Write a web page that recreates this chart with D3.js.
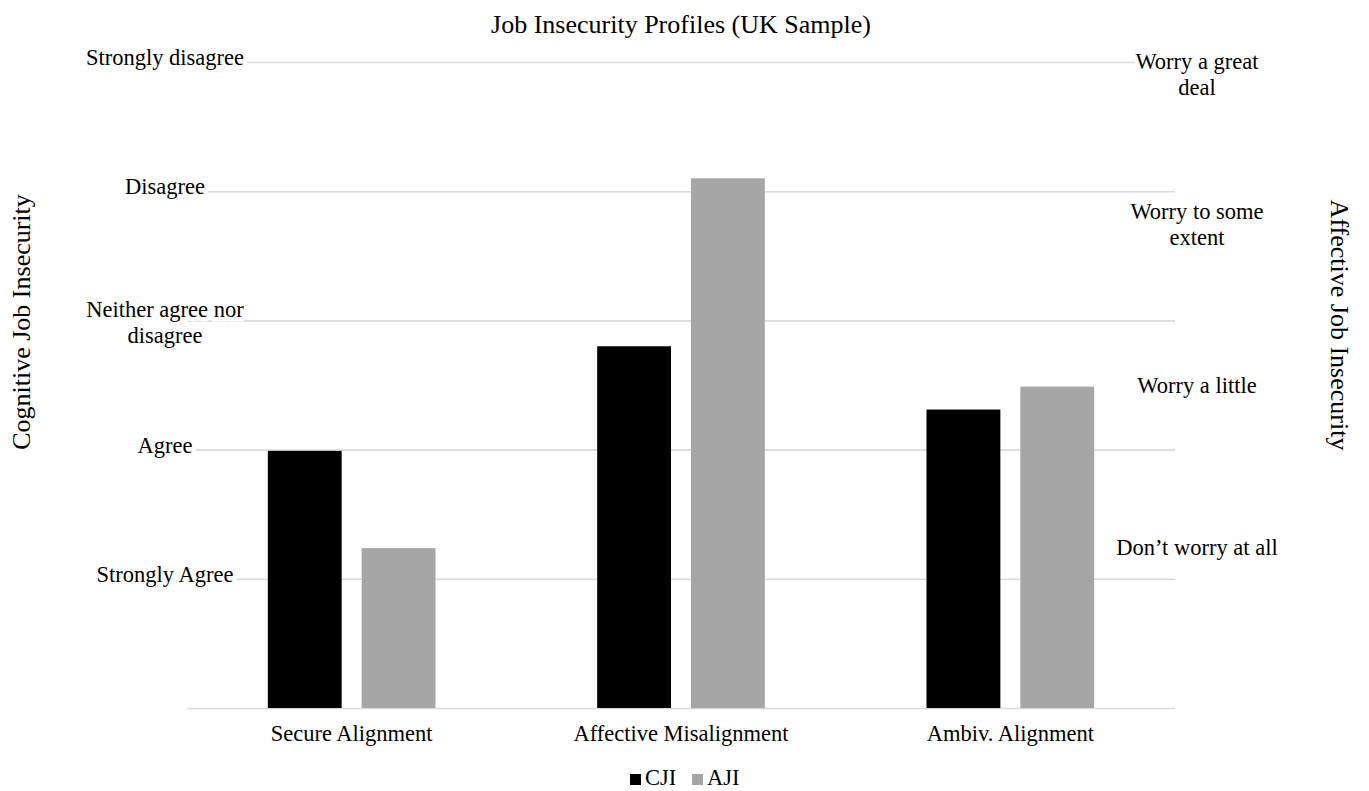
<!DOCTYPE html>
<html><head><meta charset="utf-8">
<script src="https://cdn.jsdelivr.net/npm/d3@7"></script>
<style>body{margin:0;background:#fff}</style>
</head><body><svg id="c" width="1369" height="791"></svg>
<script>
const categories = ["Secure Alignment", "Affective Misalignment", "Ambiv. Alignment"];
const seriesNames = ["CJI", "AJI"];
const cjiValues = [1.99, 2.80, 2.31];   // left axis (0-5)
const ajiValues = [0.99, 3.28, 1.99];   // right axis (0-4)
const leftTickValues = [1, 2, 3, 4, 5];
const leftTickLabels = ["Strongly Agree", "Agree", "Neither agree nor|disagree", "Disagree", "Strongly disagree"];
const rightTickValues = [1, 2, 3, 4];
const rightTickLabels = ["Don\u2019t worry at all", "Worry a little", "Worry to some|extent", "Worry a great|deal"];
const titleText = "Job Insecurity Profiles (UK Sample)";
const leftTitle = "Cognitive Job Insecurity";
const rightTitle = "Affective Job Insecurity";

const W = 1369, H = 791;
const FONT = "'Liberation Serif', 'Times New Roman', serif";
const svg = d3.select("#c").attr("font-family", FONT);
svg.append("rect").attr("width", W).attr("height", H).attr("fill", "#fff");

const plot = {left: 187, right: 1175, top: 62, bottom: 708};
const x0 = d3.scaleBand().domain(categories).range([plot.left, plot.right]).paddingInner(0).paddingOuter(0);
const x1 = d3.scaleBand().domain(seriesNames).range([0, x0.bandwidth()]).paddingInner(0.2128).paddingOuter(0.8617);
const yL = d3.scaleLinear().domain([0, 5]).range([plot.bottom, plot.top]);
const yR = d3.scaleLinear().domain([0, 4]).range([plot.bottom, plot.top]);
const colors = {CJI: "#000000", AJI: "#a6a6a6"};

// gridlines via axis
const grid = svg.append("g").attr("transform", `translate(${plot.left},0)`)
  .call(d3.axisLeft(yL).tickValues([0].concat(leftTickValues)).tickSize(-(plot.right - plot.left)).tickFormat(""));
grid.select(".domain").remove();
grid.selectAll("line").attr("stroke", "#d9d9d9").attr("stroke-width", 1.6);

// bars
const rows = categories.map((c, i) => ({cat: c, vals: [
  {s: "CJI", v: cjiValues[i], y: yL}, {s: "AJI", v: ajiValues[i], y: yR}]}));
const g = svg.append("g");
g.selectAll("g").data(rows).join("g")
  .attr("transform", d => `translate(${x0(d.cat)},0)`)
  .selectAll("rect").data(d => d.vals).join("rect")
  .attr("x", d => x1(d.s)).attr("width", x1.bandwidth())
  .attr("y", d => d.y(d.v)).attr("height", d => plot.bottom - d.y(d.v))
  .attr("fill", d => colors[d.s]);

const FS = 22.5, LH = 26;
function multiText(sel, label, x, baseline) {
  const lines = label.split("|");
  const t = sel.append("text").attr("x", x).attr("text-anchor", "middle")
    .attr("font-size", FS).attr("fill", "#000")
    .attr("stroke", "#fff").attr("stroke-width", 9).attr("stroke-linejoin", "round")
    .attr("paint-order", "stroke");
  lines.forEach((ln, k) => t.append("tspan").attr("x", x).attr("y", baseline + k * LH).text(ln));
  return t;
}

// left tick labels
const lg = svg.append("g");
leftTickValues.forEach((v, i) => {
  const lines = leftTickLabels[i].split("|").length;
  const b = yL(v) + 3 - (lines - 1) * 6.5;
  multiText(lg, leftTickLabels[i], 165, b);
});
// right tick labels
const rg = svg.append("g");
rightTickValues.forEach((v, i) => {
  const lines = rightTickLabels[i].split("|").length;
  let b = yR(v) + 8 - (lines - 1) * 13;
  b = Math.max(b, plot.top + 7);
  multiText(rg, rightTickLabels[i], 1197, b);
});

// category labels
const xa = svg.append("g").attr("transform", `translate(0,${plot.bottom})`)
  .call(d3.axisBottom(x0).tickSize(0).tickPadding(0));
xa.select(".domain").remove();
xa.selectAll("text").attr("font-family", FONT).attr("font-size", FS).attr("fill", "#000")
  .attr("dy", null).attr("y", 33);

// title
svg.append("text").attr("x", 681).attr("y", 33).attr("text-anchor", "middle")
  .attr("font-size", 26).text(titleText);
// axis titles
svg.append("text").attr("transform", "translate(30,322) rotate(-90)").attr("text-anchor", "middle")
  .attr("font-size", 26).text(leftTitle);
svg.append("text").attr("transform", "translate(1331,325) rotate(90)").attr("text-anchor", "middle")
  .attr("font-size", 26).text(rightTitle);

// legend
const leg = svg.append("g").attr("transform", "translate(630,785)");
const li = leg.selectAll("g").data(seriesNames).join("g").attr("transform", (d, i) => `translate(${i * 62},0)`);
li.append("rect").attr("x", 0).attr("y", -11).attr("width", 11).attr("height", 11).attr("fill", d => colors[d]);
li.append("text").attr("x", 15).attr("y", 0).attr("font-size", FS).text(d => d);
</script></body></html>
